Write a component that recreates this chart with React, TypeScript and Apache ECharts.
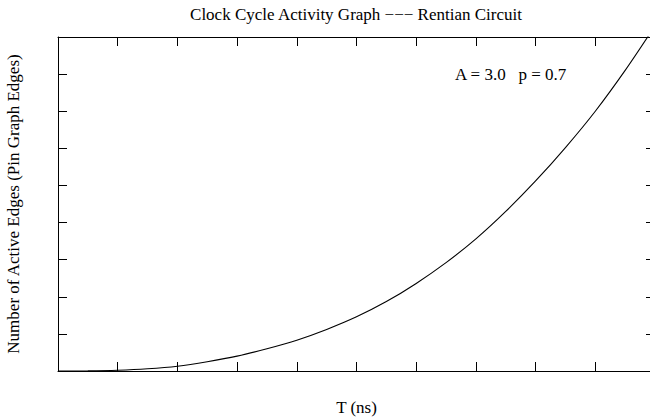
import React, { useEffect, useRef } from "react";
import * as echarts from "echarts";

const titleText = "Clock Cycle Activity Graph −−− Rentian Circuit";
const xName = "T (ns)";
const yName = "Number of Active Edges (Pin Graph Edges)";
const annotation = "A = 3.0   p = 0.7";

const tValues = [0, 0.5, 1, 1.5, 2, 2.5, 3, 3.5, 4, 4.5, 5, 5.5, 6, 6.5, 7, 7.5, 8, 8.5, 9, 9.5, 10];
const edgeValues = [0, 0.003, 0.02, 0.06, 0.13, 0.25, 0.4, 0.6, 0.83, 1.12, 1.46, 1.87, 2.36, 2.92, 3.56, 4.3, 5.12, 6.02, 7.0, 8.1, 9.3];

const FONT = "'Liberation Serif', 'Times New Roman', serif";
const FS = 17;

export default function App() {
  const ref = useRef<HTMLDivElement>(null);
  useEffect(() => {
    document.body.style.margin = "0";
    const chart = echarts.init(ref.current!, null, { renderer: "svg" });
    const axisCommon = {
      type: "value" as const,
      axisLine: { show: true, onZero: false, lineStyle: { color: "#000", width: 1 } },
      axisTick: { show: true, inside: true, length: 9, lineStyle: { color: "#000", width: 1 } },
      axisLabel: { show: false },
      splitLine: { show: false },
    };
    chart.setOption({
      animation: false,
      backgroundColor: "#fff",
      grid: { left: 58, right: -5, top: 37, bottom: 48, containLabel: false, outerBoundsMode: "none" },
      xAxis: [
        {
          ...axisCommon,
          position: "bottom",
          min: 0,
          max: 10,
          interval: 1,
          name: xName,
          nameLocation: "middle",
          nameGap: 28,
          nameTextStyle: { fontFamily: FONT, fontSize: FS, color: "#000" },
        },
        { ...axisCommon, position: "top", min: 0, max: 10, interval: 1 },
      ],
      yAxis: [
        {
          ...axisCommon,
          position: "left",
          min: 0,
          max: 9,
          interval: 1,
          name: yName,
          nameLocation: "middle",
          nameGap: 36,
          nameRotate: 90,
          nameTextStyle: { fontFamily: FONT, fontSize: FS, color: "#000" },
        },
        { ...axisCommon, position: "right", min: 0, max: 9, interval: 1 },
      ],
      graphic: [
        {
          type: "text",
          x: 356,
          y: 14,
          style: {
            text: titleText,
            fontFamily: FONT,
            fontSize: FS,
            fill: "#000",
            textAlign: "center",
            textVerticalAlign: "middle",
          },
        },
        {
          type: "text",
          x: 455,
          y: 74,
          style: {
            text: annotation,
            fontFamily: FONT,
            fontSize: FS,
            fill: "#000",
            textAlign: "left",
            textVerticalAlign: "middle",
          },
        },
      ],
      series: [
        {
          type: "line",
          data: tValues.map((t, i) => [t, edgeValues[i]]),
          showSymbol: false,
          symbol: "none",
          smooth: 0.3,
          clip: true,
          lineStyle: { color: "#000", width: 1.1 },
        },
      ],
    });
    return () => chart.dispose();
  }, []);
  return <div ref={ref} style={{ width: 650, height: 419 }} />;
}
